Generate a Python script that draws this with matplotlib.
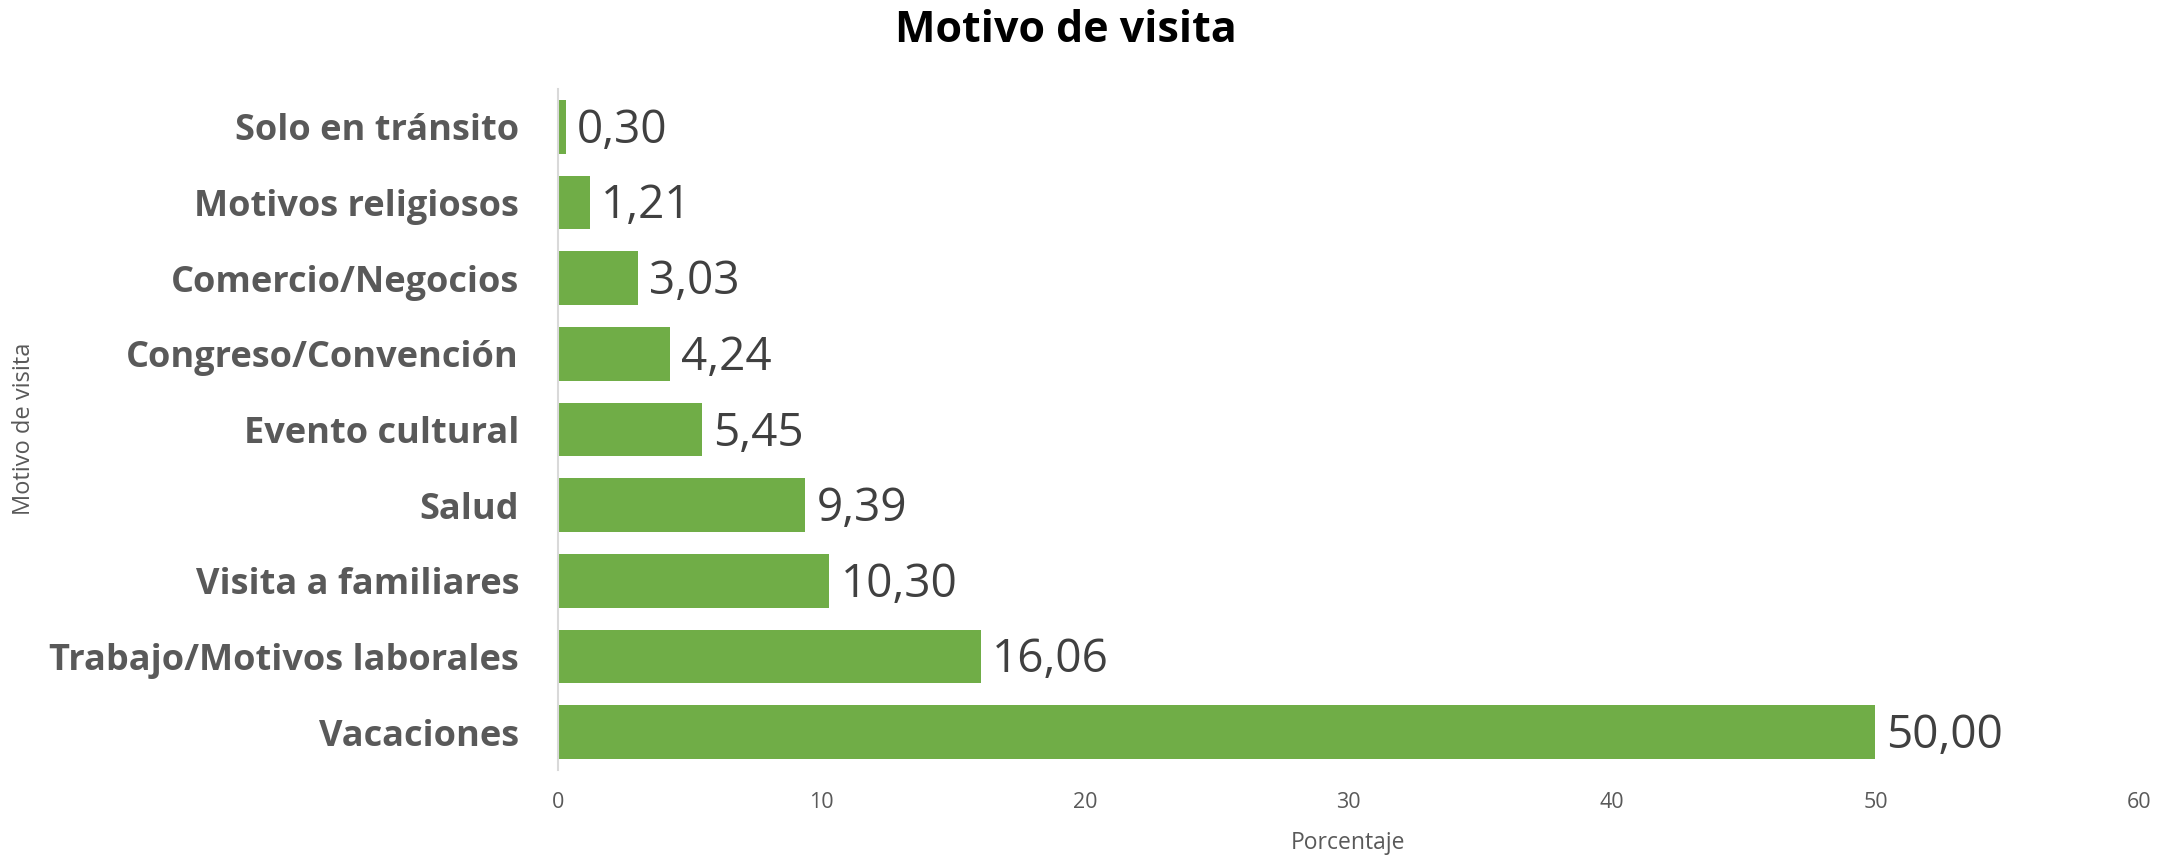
import numpy as np
import matplotlib.pyplot as plt

# data, top to bottom as shown
categorias = ["Solo en tránsito", "Motivos religiosos", "Comercio/Negocios",
              "Congreso/Convención", "Evento cultural", "Salud",
              "Visita a familiares", "Trabajo/Motivos laborales", "Vacaciones"]
porcentajes = [0.30, 1.21, 3.03, 4.24, 5.45, 9.39, 10.30, 16.06, 50.00]
ticks_x = [0, 10, 20, 30, 40, 50, 60]

verde = "#70AD47"
gris = "#595959"
gris_osc = "#404040"
fam = ["Open Sans", "DejaVu Sans"]

fig = plt.figure(figsize=(21.78, 8.56), dpi=100)
ax = fig.add_axes([558/2178, 1-770/856, (2139-558)/2178, (770-89)/856])

y = np.arange(len(categorias))
ax.barh(y, porcentajes, height=0.71, color=verde)
ax.set_ylim(len(categorias)-0.5, -0.5)
ax.set_xlim(0, 60)

for yi, v in zip(y, porcentajes):
    ax.annotate(f"{v:.2f}".replace(".", ","), (v, yi), xytext=(11, -4),
                textcoords="offset pixels", va="center", ha="left",
                fontsize=33, color=gris_osc, family=fam)

ax.set_yticks(y)
ax.set_yticklabels(categorias, fontsize=26, fontweight="bold", color=gris, family=fam)
ax.set_xticks(ticks_x)
ax.set_xticklabels([str(t) for t in ticks_x], fontsize=15.5, color=gris, family=fam)
ax.tick_params(axis="y", length=0, pad=28)
ax.tick_params(axis="x", length=0, pad=16)

for s in ["top", "right", "bottom"]:
    ax.spines[s].set_visible(False)
ax.spines["left"].set_color("#d9d9d9")
ax.spines["left"].set_linewidth(1.5)

ax.set_xlabel("Porcentaje", fontsize=16.5, color=gris, family=fam, labelpad=13)
fig.text(24/2178, 1-429/856, "Motivo de visita", rotation=90, fontsize=17,
         color=gris, family=fam, ha="center", va="center")
fig.text(1066/2178, 1-31/856, "Motivo de visita", fontsize=31, fontweight="bold",
         color="black", family=fam, ha="center", va="center")

fig.savefig("out.png", dpi=100, facecolor="white")
